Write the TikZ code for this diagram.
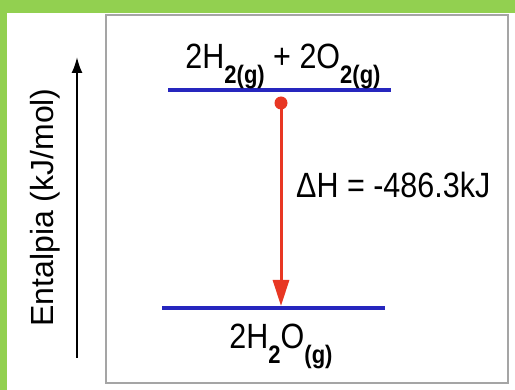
\documentclass[tikz,border=0pt]{standalone}
\usepackage{fontspec}
\setmainfont{Liberation Sans}
\usetikzlibrary{arrows.meta}
\definecolor{frameGreen}{RGB}{146,208,80}
\definecolor{levelBlue}{RGB}{38,38,190}
\definecolor{dhRed}{RGB}{232,55,35}
\definecolor{boxGray}{RGB}{165,165,165}
\newcommand{\mainsz}{\fontsize{30.5}{34}\selectfont}
\newcommand{\chemsub}[1]{\raisebox{-13pt}{\fontsize{22}{24}\selectfont\bfseries #1}}
\newcommand{\vstretch}[1]{\scalebox{1}[1.15]{#1}}
\begin{document}
\begin{tikzpicture}[x=1pt,y=-1pt,
  level/.style={draw=levelBlue, line width=4pt},
  label/.style={inner sep=0pt, font=\mainsz},
  dharrow/.style={draw=dhRed, line width=3pt, -{Triangle[length=26pt,width=16pt]}},
  axisarrow/.style={draw=black, line width=2pt, -{Latex[length=16pt,width=11pt]}}]
\useasboundingbox (0,0) rectangle (515,390);
\fill[white] (0,0) rectangle (515,390);
\fill[frameGreen] (0,0) rectangle (515,13);
\fill[frameGreen] (0,0) rectangle (7,390);
\draw[boxGray, line width=2pt] (106,15) rectangle (508,383);

% energy levels
\coordinate (topL) at (168,90);
\coordinate (topR) at (391,90);
\coordinate (botL) at (162,308);
\coordinate (botR) at (385,308);
\draw[level] (topL) -- (topR);
\draw[level] (botL) -- (botR);

% labels
\node[label, anchor=base] (react) at (283,69)
  {\vstretch{2H\chemsub{2(g)} + 2O\chemsub{2(g)}}};
\node[label, anchor=base] (prod) at (281,349)
  {\vstretch{2H\chemsub{2}O\chemsub{(g)}}};
\node[label, anchor=base west] (dh) at (296,198)
  {\vstretch{ΔH = -486.3kJ}};

% enthalpy change arrow
\node[circle, fill=dhRed, inner sep=0pt, minimum size=13pt] (dot) at (281,103) {};
\coordinate (tip) at (281,306);
\draw[dharrow] (dot.center) -- (tip);

% axis
\coordinate (axB) at (77,358);
\coordinate (axT) at (77,57);
\draw[axisarrow] (axB) -- (axT);
\node[inner sep=0pt, rotate=90, anchor=base, font=\fontsize{32}{36}\selectfont] (axlabel) at (53,207.5) {Entalpia (kJ/mol)};
\end{tikzpicture}
\end{document}
